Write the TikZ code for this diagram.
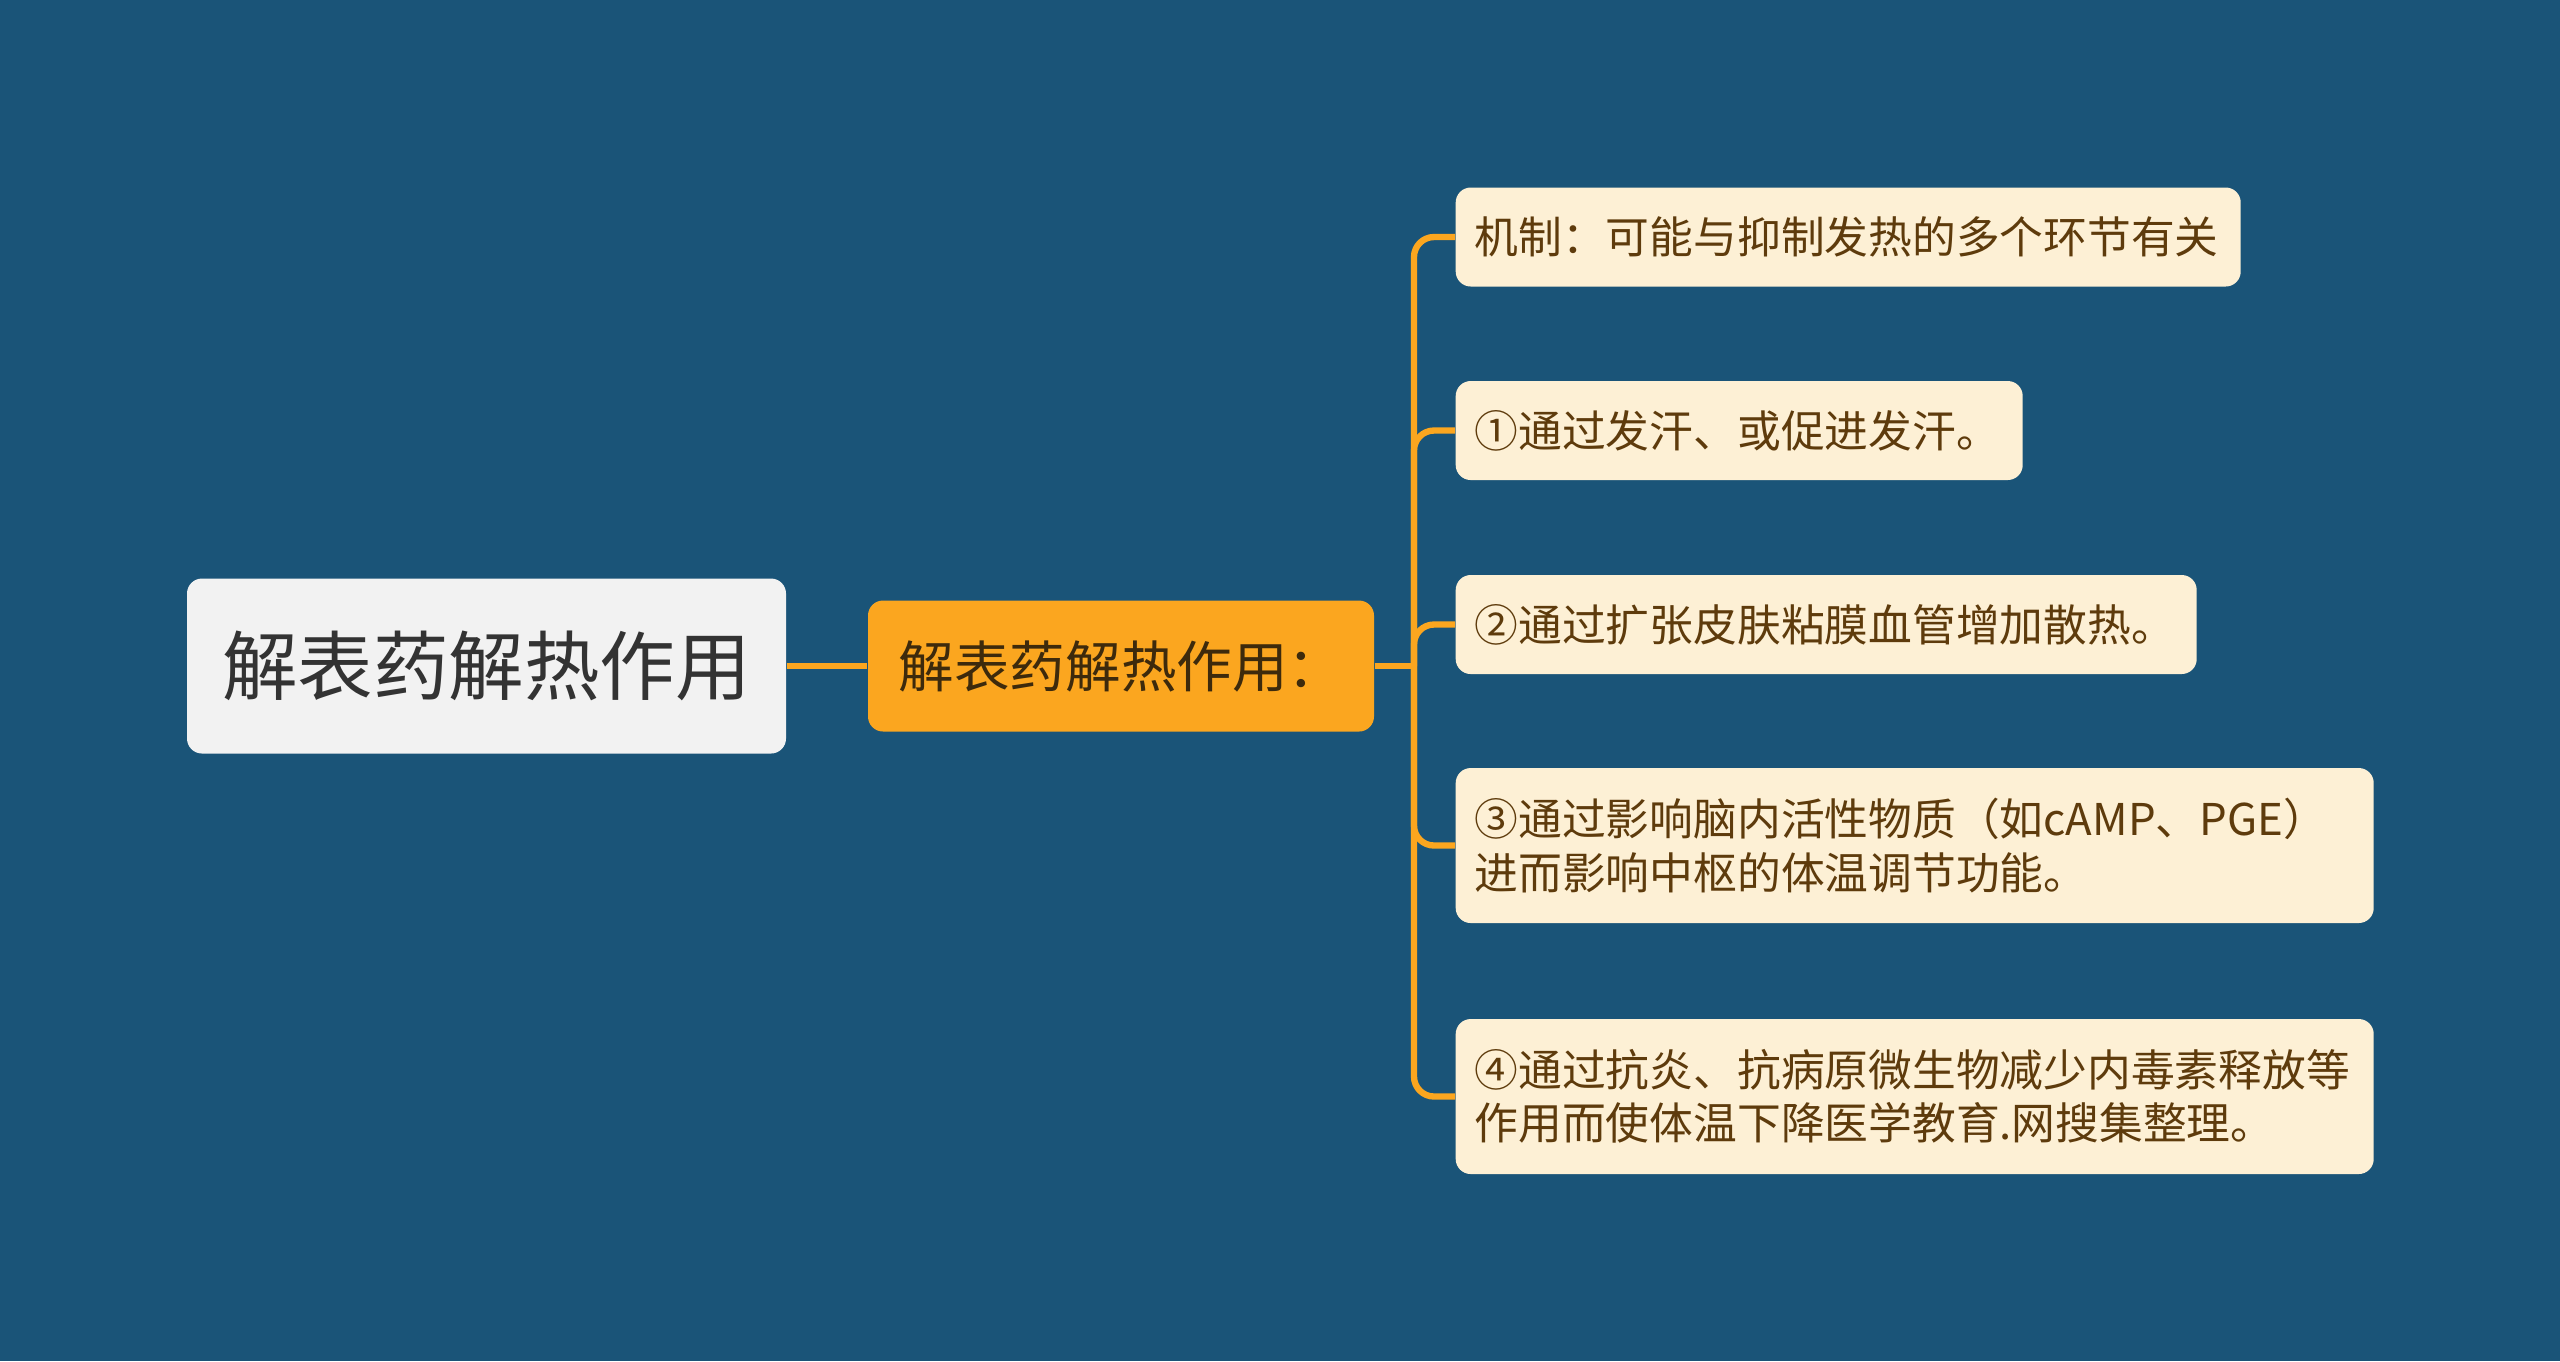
\documentclass[tikz,border=0pt]{standalone}
\usepackage{fontspec}
\newfontfamily\cjk{Noto Sans CJK SC}
\definecolor{bgblue}{HTML}{1A5478}
\definecolor{rootgray}{HTML}{F2F2F2}
\definecolor{roottext}{HTML}{333333}
\definecolor{midorange}{HTML}{FBA61F}
\definecolor{midtext}{HTML}{3D2A0C}
\definecolor{leafcream}{HTML}{FDF0D5}
\definecolor{leaftext}{HTML}{5E3B0C}
\begin{document}
\begin{tikzpicture}[
  rootbox/.style={rectangle, rounded corners=0.15cm, fill=rootgray, text=roottext,
    font=\cjk\fontsize{21.5}{26}\selectfont, minimum width=5.99cm, minimum height=1.75cm},
  midbox/.style={rectangle, rounded corners=0.15cm, fill=midorange, text=midtext,
    font=\cjk\fontsize{15.8}{19}\selectfont, minimum width=5.06cm, minimum height=1.31cm},
  leafbox/.style={rectangle, rounded corners=0.15cm, fill=leafcream, text=leaftext,
    font=\cjk\fontsize{12.45}{15.1}\selectfont, align=left, anchor=west,
    inner xsep=0.19cm, inner ysep=0cm},
  branch/.style={draw=midorange, line width=1.8pt}
]
%\draw [lightgray](0,0) grid (26,-14);

\fill [bgblue](0,0) rectangle (25.6,-13.61);

\node [rootbox] (root) at (4.865,-6.66) {解表药解热作用};
\node [midbox] (mid) at (11.21,-6.66) {解表药解热作用：};

\node [leafbox, text width=7.47cm, minimum height=0.99cm] (mech) at (14.55,-2.37) {机制：可能与抑制发热的多个环节有关};
\node [leafbox, text width=5.29cm, minimum height=0.99cm] (sweat) at (14.55,-4.305) {①通过发汗、或促进发汗。};
\node [leafbox, text width=7.03cm, minimum height=0.99cm] (vessel) at (14.55,-6.245) {②通过扩张皮肤粘膜血管增加散热。};
\node [leafbox, text width=8.80cm, minimum height=1.55cm] (brain) at (14.55,-8.455) {③通过影响脑内活性物质（如cAMP、PGE）\\进而影响中枢的体温调节功能。};
\node [leafbox, text width=8.80cm, minimum height=1.55cm] (toxin) at (14.55,-10.965) {④通过抗炎、抗病原微生物减少内毒素释放等\\作用而使体温下降医学教育.网搜集整理。};

\coordinate (hub) at (14.14,-6.66);

\draw [branch](root.east) -- (mid.west);
\draw [branch](mid.east) -- (hub);
\draw [branch, rounded corners=0.2cm](hub) |- (mech.west);
\draw [branch, rounded corners=0.2cm](hub) |- (sweat.west);
\draw [branch, rounded corners=0.2cm](hub) |- (vessel.west);
\draw [branch, rounded corners=0.2cm](hub) |- (brain.west);
\draw [branch, rounded corners=0.2cm](hub) |- (toxin.west);

\end{tikzpicture}
\end{document}
